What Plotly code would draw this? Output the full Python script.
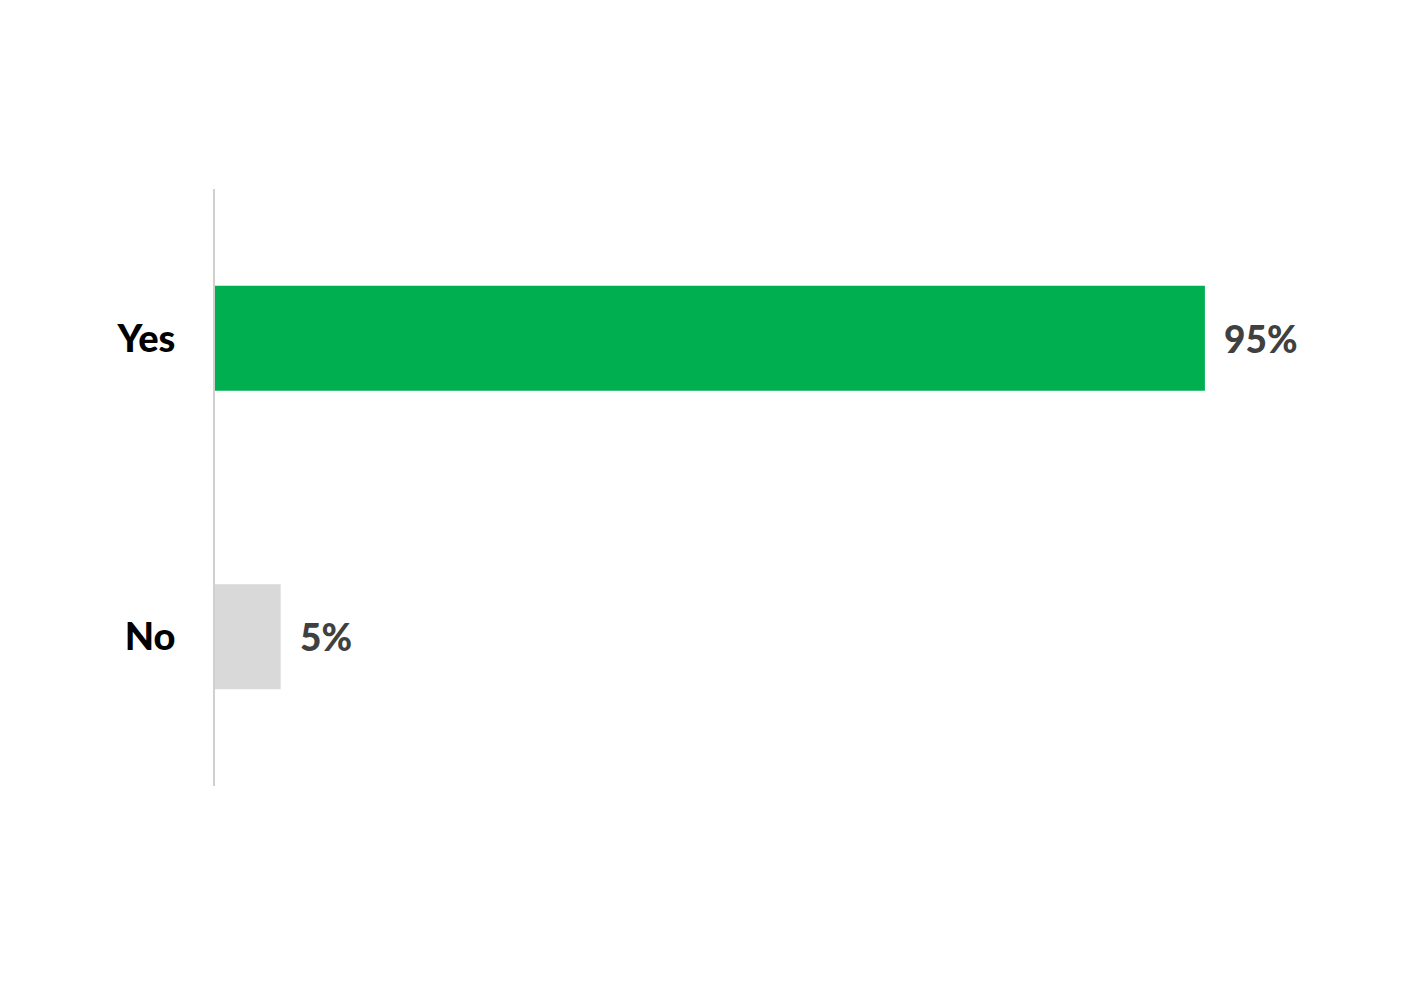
import plotly.graph_objects as go

# Survey answers
categories = ['Yes', 'No']
values = [95, 6.3]          # bar lengths as drawn
value_labels = ['95%', '5%']
bar_colors = ['#00AF50', '#D9D9D9']

fig = go.Figure()

fig.add_trace(go.Bar(
    x=values,
    y=categories,
    orientation='h',
    marker=dict(color=bar_colors, line=dict(width=0)),
    width=0.352,
    hoverinfo='skip'
))

# value labels to the right of each bar
for cat, val, lab in zip(categories, values, value_labels):
    fig.add_annotation(
        x=val, y=cat, text=lab,
        showarrow=False, xanchor='left', xshift=17,
        font=dict(family='Lato, Open Sans, sans-serif', size=37, color='#404040',
                  weight=900),
    )

fig.update_layout(
    width=1415, height=1000,
    margin=dict(l=207, r=166, t=181, b=222),
    paper_bgcolor='white',
    plot_bgcolor='white',
    showlegend=False,
    font=dict(family='Lato, Open Sans, sans-serif'),
    xaxis=dict(
        range=[0, 100],
        visible=False,
        showgrid=False,
        zeroline=False,
    ),
    yaxis=dict(
        autorange='reversed',
        showgrid=False,
        zeroline=False,
        showline=True,
        linecolor='#D0D0D0',
        linewidth=2,
        ticks='',
        ticklabelstandoff=30,
        tickfont=dict(family='Lato, Open Sans, sans-serif', size=38, color='#000000',
                      weight=900),
    ),
)

fig.write_html("out.html")
